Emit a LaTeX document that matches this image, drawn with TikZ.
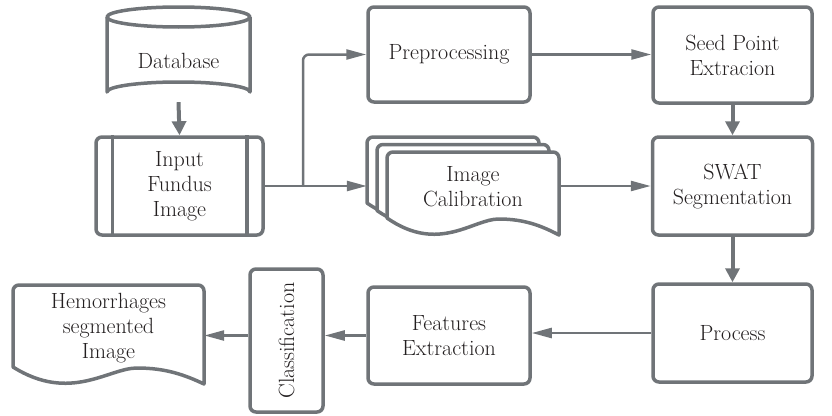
\documentclass[tikz,border=0pt]{standalone}
\usepackage{fontspec}
\usetikzlibrary{arrows.meta,calc}
\definecolor{stroke}{HTML}{707478}
\definecolor{txt}{HTML}{231F20}
\newcommand\docshp[4]{% x0 x1 ytop yleft-bottom
  \pgfmathsetmacro\dw{#2-#1}%
  \draw[docline] (#1,#4) [rounded corners=6]-- (#1,#3) -- (#2,#3) [sharp corners]-- (#2,#4+17)
    .. controls (#1+0.9*\dw,#4+8) and (#1+0.8*\dw,#4+1) .. (#1+0.65*\dw,#4+1)
    .. controls (#1+0.5*\dw,#4+1) and (#1+0.3*\dw,#4+36) .. (#1,#4) -- cycle;}
\begin{document}
\begin{tikzpicture}[x=1pt,y=-1pt,
  font=\rmfamily\fontsize{22}{25}\selectfont, text=txt,
  box/.style={draw=stroke, line width=3.5pt, rounded corners=6pt, fill=white, align=center, inner sep=0pt},
  plain/.style={draw=none, align=center, inner sep=0pt},
  docline/.style={draw=stroke, line width=3.5pt, fill=white, line join=round},
  harrow/.style={draw=stroke, line width=2.5pt, -{Triangle[length=20pt,width=10pt]}},
  varrow/.style={draw=stroke, line width=4pt, -{Triangle[length=14pt,width=14pt]}},
  hline/.style={draw=stroke, line width=2.5pt}]
\useasboundingbox (0,0) rectangle (832,415);

% Database cylinder
\draw[docline] (107,17) -- (107,92) arc[start angle=180, end angle=360, x radius=71.5, y radius=10] -- (250,17);
\draw[docline] (178.5,17) ellipse [x radius=71.5, y radius=10];
\node[plain, minimum width=143, minimum height=95] (db) at (178.5,54.5) {\raisebox{-14pt}[0pt][0pt]{Database}};

% Input Fundus Image
\node[box, minimum width=167, minimum height=98] (input) at (179.5,186) {Input\\Fundus\\Image};
\draw[draw=stroke, line width=3.5pt] ([xshift=18]input.north west) -- ([xshift=18]input.south west);
\draw[draw=stroke, line width=3.5pt] ([xshift=-18]input.north east) -- ([xshift=-18]input.south east);

% Top row
\node[box, minimum width=162, minimum height=95] (pre) at (449,54.5) {Preprocessing};
\node[box, minimum width=159, minimum height=96] (seed) at (732.5,55) {Seed Point\\Extracion};
\node[box, minimum width=160, minimum height=98] (swat) at (732.5,186) {SWAT\\Segmentation};
\node[box, minimum width=159, minimum height=98] (proc) at (732.5,333) {Process};
\node[box, minimum width=162, minimum height=97] (feat) at (449,335.5) {Features\\Extraction};
\node[box, minimum width=73, minimum height=143] (cls) at (286.5,340.5) {\rotatebox{90}{Classification}};

% Image Calibration stack
\docshp{367}{539}{137}{203}
\docshp{377}{549}{144.5}{210.5}
\docshp{387}{559}{152}{218}
\node[plain, minimum width=192, minimum height=84] (calib) at (463,186) {};
\node[plain] (calibtxt) at (473,187) {Image\\Calibration};

% Hemorrhages segmented Image
\docshp{13}{204}{285}{367}
\node[plain, minimum width=191, minimum height=90] (hem) at (108.5,328) {Hemorrhages\\segmented\\Image};

% Connectors
\coordinate (br) at (303,186);
\draw[varrow] (db.south) -- (input.north);
\draw[hline] (input.east) -- (br);
\draw[harrow, rounded corners=6] (br) |- (pre.west);
\draw[harrow] (br) -- (calib.west);
\draw[harrow] (pre.east) -- (seed.west |- pre.east);
\draw[varrow] (seed.south) -- (swat.north);
\draw[harrow] (calib.east) -- (swat.west |- calib.east);
\draw[varrow] (swat.south) -- (proc.north);
\draw[harrow] (proc.west) -- (feat.east |- proc.west);
\draw[harrow] (feat.west) -- (cls.east |- feat.west);
\draw[harrow] (cls.west |- feat.west) -- (hem.east |- feat.west);
\end{tikzpicture}
\end{document}
